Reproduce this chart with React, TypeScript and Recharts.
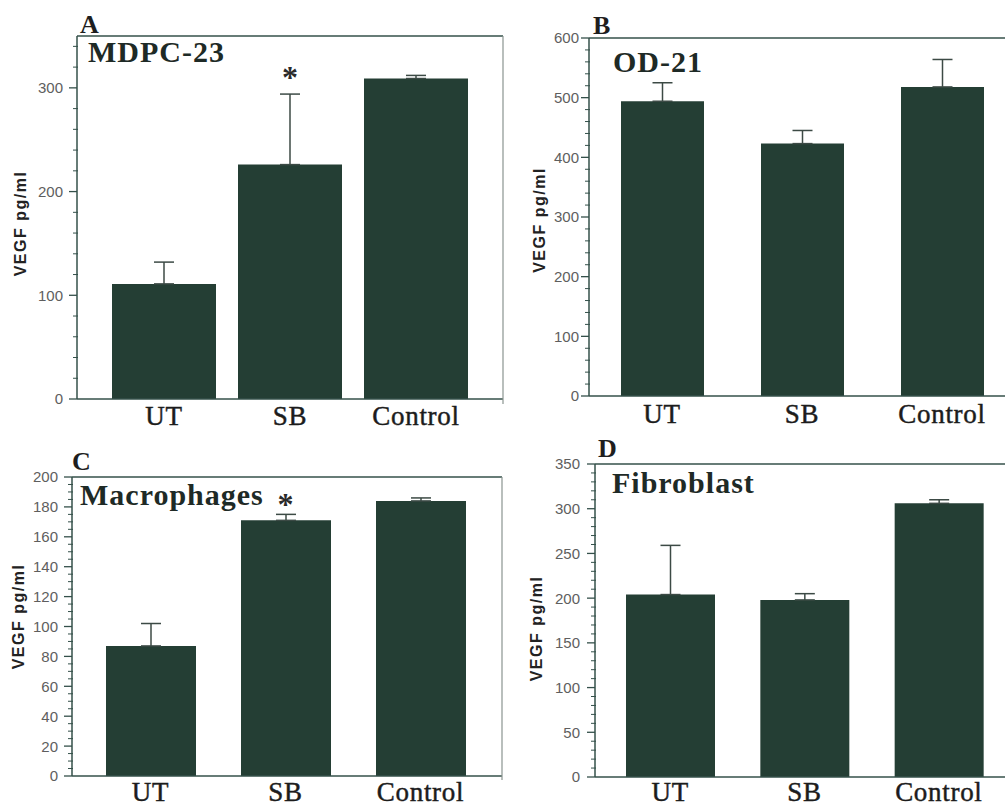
import React from 'react';
import { BarChart, Bar, XAxis, YAxis, ErrorBar, ReferenceDot } from 'recharts';

// ---------- data ----------
const categories = ['UT', 'SB', 'Control'];

const mdpcMeans = [111, 226, 309];
const mdpcErrors = [21, 68, 3];
const mdpcStars = ['SB'];
const mdpcMajorTicks = [0, 100, 200, 300];

const od21Means = [494, 423, 518];
const od21Errors = [31, 22, 46];
const od21Stars: string[] = [];
const od21MajorTicks = [0, 100, 200, 300, 400, 500, 600];

const macroMeans = [87, 171, 184];
const macroErrors = [15, 4, 2];
const macroStars = ['SB'];
const macroMajorTicks = [0, 20, 40, 60, 80, 100, 120, 140, 160, 180, 200];

const fibroMeans = [204, 198, 306];
const fibroErrors = [55, 7, 4];
const fibroStars: string[] = [];
const fibroMajorTicks = [0, 50, 100, 150, 200, 250, 300, 350];

const buildRows = (means: number[], errs: number[]) =>
  categories.map((name, i) => ({ name, mean: means[i], err: [0, errs[i]] }));

const minorTicks = (max: number, step: number) => {
  const out: number[] = [];
  for (let v = 0; v <= max + 1e-9; v += step) out.push(Math.round(v * 1000) / 1000);
  return out;
};

// ---------- styles ----------
const BAR = '#243e34';
const AXIS = '#34504a';
const FRAME_R = '#8a9490';
const TICK_TXT = '#5e5e5e';
const SERIF = '"Liberation Serif", "Times New Roman", serif';
const SANS = '"Liberation Sans", Arial, sans-serif';

type PanelCfg = {
  rows: { name: string; mean: number; err: number[] }[];
  stars: string[];
  starDy: number;
  majors: number[];
  minorStep: number;
  max: number;
  left: number;
  top: number;
  width: number;
  height: number;
  margin: { top: number; right: number; bottom: number; left: number };
  padL: number;
  padR: number;
  barSize: number;
  labelGap: number;
  titleX: number;
  titleDy: number;
  catDy: number;
};

const YTick = (props: any) => {
  const { x, y, payload, majors, labelGap } = props;
  const v = payload.value;
  const isMajor = majors.includes(v);
  return (
    <g>
      {isMajor ? (
        <line x1={x - 8} x2={x} y1={y} y2={y} stroke={AXIS} strokeWidth={1.3} />
      ) : (
        <line x1={x - 4} x2={x + 1} y1={y} y2={y} stroke={AXIS} strokeWidth={1} />
      )}
      {isMajor && (
        <text
          x={x - labelGap}
          y={y}
          dy="0.36em"
          textAnchor="end"
          fontFamily={SANS}
          fontSize={15}
          fill={TICK_TXT}
        >
          {v}
        </text>
      )}
    </g>
  );
};

const XTick = (props: any) => {
  const { x, y, payload, catDy } = props;
  return (
    <text
      x={x}
      y={y + catDy}
      textAnchor="middle"
      fontFamily={SERIF}
      fontSize={27}
      letterSpacing={0.7}
      fill="#1c1c1c"
      stroke="#1c1c1c"
      strokeWidth={0.45}
    >
      {payload.value}
    </text>
  );
};

const Panel = ({ cfg }: { cfg: PanelCfg }) => {
  const ticks = minorTicks(cfg.max, cfg.minorStep);
  return (
    <div style={{ position: 'absolute', left: cfg.left, top: cfg.top }}>
      <BarChart width={cfg.width} height={cfg.height} data={cfg.rows} margin={cfg.margin}>
        <XAxis
          dataKey="name"
          height={30}
          padding={{ left: cfg.padL, right: cfg.padR }}
          axisLine={{ stroke: AXIS, strokeWidth: 1.5 }}
          tickLine={false}
          tickSize={0}
          tickMargin={0}
          tick={<XTick catDy={cfg.catDy} />}
          interval={0}
        />
        <YAxis
          width={60}
          domain={[0, cfg.max]}
          ticks={ticks}
          interval={0}
          tickSize={0}
          tickMargin={0}
          tickLine={false}
          axisLine={{ stroke: AXIS, strokeWidth: 1.5 }}
          tick={<YTick majors={cfg.majors} labelGap={cfg.labelGap} />}
          label={(p: any) => {
            const vb = p.viewBox || {};
            const cx = cfg.titleX;
            const cy = (vb.y ?? 0) + (vb.height ?? 0) / 2 + cfg.titleDy;
            return (
              <text
                x={cx}
                y={cy}
                transform={`rotate(-90 ${cx} ${cy})`}
                textAnchor="middle"
                dominantBaseline="central"
                fontFamily={SANS}
                fontWeight="bold"
                fontSize={16}
                letterSpacing={1.5}
                fill="#222"
              >
                VEGF pg/ml
              </text>
            );
          }}
        />
        <Bar dataKey="mean" fill={BAR} barSize={cfg.barSize} isAnimationActive={false}>
          <ErrorBar dataKey="err" width={10} stroke="#3c4a45" strokeWidth={1.5} direction="y" />
        </Bar>
        {cfg.stars.map((s) => {
          const r = cfg.rows.find((d) => d.name === s)!;
          return (
            <ReferenceDot
              key={s}
              x={s}
              y={r.mean + r.err[1]}
              r={0}
              shape={(p: any) => (
                <text
                  x={p.cx}
                  y={p.cy + cfg.starDy}
                  textAnchor="middle"
                  fontFamily={SERIF}
                  fontWeight="bold"
                  fontSize={32}
                  fill="#2a2a2a"
                >
                  *
                </text>
              )}
            />
          );
        })}
      </BarChart>
    </div>
  );
};

const panelA: PanelCfg = {
  rows: buildRows(mdpcMeans, mdpcErrors),
  stars: mdpcStars,
  starDy: -6,
  majors: mdpcMajorTicks,
  minorStep: 20,
  max: 350,
  left: 0,
  top: 0,
  width: 505,
  height: 440,
  margin: { top: 36, right: 2, bottom: 11, left: 17 },
  padL: 24,
  padR: 24,
  barSize: 104,
  labelGap: 14,
  titleX: 20,
  titleDy: 6,
  catDy: 26,
};

const panelB: PanelCfg = {
  rows: buildRows(od21Means, od21Errors),
  stars: od21Stars,
  starDy: -6,
  majors: od21MajorTicks,
  minorStep: 20,
  max: 600,
  left: 500,
  top: 0,
  width: 520,
  height: 440,
  margin: { top: 38, right: 5, bottom: 14, left: 29 },
  padL: 3,
  padR: 3,
  barSize: 83,
  labelGap: 10,
  titleX: 39,
  titleDy: 3,
  catDy: 27,
};

const panelC: PanelCfg = {
  rows: buildRows(macroMeans, macroErrors),
  stars: macroStars,
  starDy: 1,
  majors: macroMajorTicks,
  minorStep: 5,
  max: 200,
  left: 0,
  top: 420,
  width: 505,
  height: 387,
  margin: { top: 57, right: 3, bottom: 1, left: 12 },
  padL: 11,
  padR: 14,
  barSize: 90,
  labelGap: 14,
  titleX: 18,
  titleDy: -10,
  catDy: 25,
};

const panelD: PanelCfg = {
  rows: buildRows(fibroMeans, fibroErrors),
  stars: fibroStars,
  starDy: -6,
  majors: fibroMajorTicks,
  minorStep: 10,
  max: 350,
  left: 500,
  top: 420,
  width: 520,
  height: 387,
  margin: { top: 44, right: 6, bottom: 0, left: 35 },
  padL: 8,
  padR: 8,
  barSize: 89,
  labelGap: 15,
  titleX: 36,
  titleDy: 8,
  catDy: 24,
};

const letterStyle = { fontFamily: SERIF, fontWeight: 'bold' as const, fontSize: 26, fill: '#1e1e1e' };
const titleStyle = {
  fontFamily: SERIF,
  fontWeight: 'bold' as const,
  fontSize: 30,
  fill: '#1e2a26',
  letterSpacing: 1,
};

export default function App() {
  return (
    <div
      style={{
        position: 'absolute',
        left: 0,
        top: 0,
        width: 1005,
        height: 807,
        overflow: 'hidden',
        background: '#ffffff',
      }}
    >
      <Panel cfg={panelA} />
      <Panel cfg={panelB} />
      <Panel cfg={panelC} />
      <Panel cfg={panelD} />
      <svg
        width={1005}
        height={807}
        style={{ position: 'absolute', left: 0, top: 0, pointerEvents: 'none' }}
      >
        {/* plot frames (top / right edges) */}
        <line x1={77} x2={503} y1={36} y2={36} stroke={AXIS} strokeWidth={1.3} />
        <line x1={503} x2={503} y1={36} y2={404} stroke={FRAME_R} strokeWidth={1.2} />
        <line x1={589} x2={1005} y1={38} y2={38} stroke={AXIS} strokeWidth={1.5} />
        <line x1={72} x2={502} y1={477} y2={477} stroke={AXIS} strokeWidth={1.3} />
        <line x1={502} x2={502} y1={477} y2={780} stroke={FRAME_R} strokeWidth={1.2} />
        <line x1={595} x2={1005} y1={464} y2={464} stroke={AXIS} strokeWidth={1.5} />

        <text x={80} y={33} {...letterStyle}>A</text>
        <text x={88} y={62} {...titleStyle}>MDPC-23</text>
        <text x={593} y={34} {...letterStyle}>B</text>
        <text x={613} y={72} {...titleStyle}>OD-21</text>
        <text x={72} y={470} {...letterStyle}>C</text>
        <text x={80} y={505} {...titleStyle}>Macrophages</text>
        <text x={598} y={457} {...letterStyle}>D</text>
        <text x={612} y={493} {...titleStyle}>Fibroblast</text>
      </svg>
    </div>
  );
}
